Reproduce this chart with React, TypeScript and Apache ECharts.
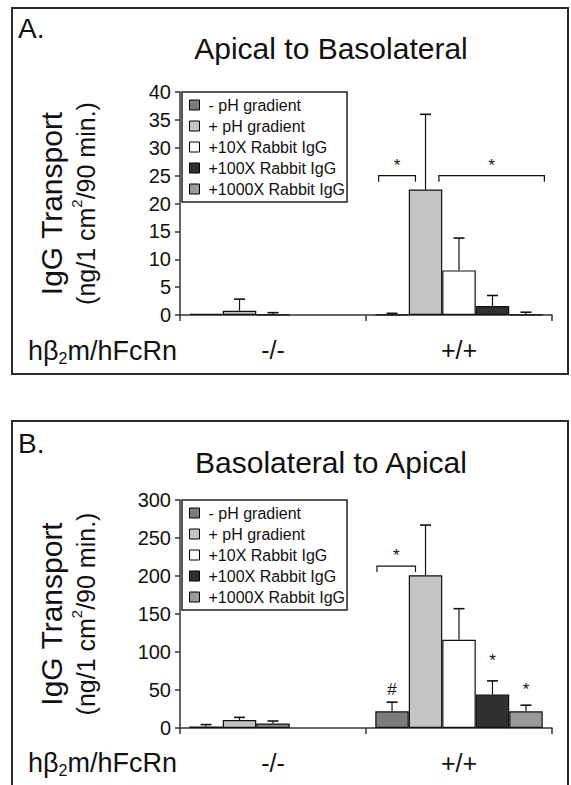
import React, { useEffect, useRef } from "react";
import * as echarts from "echarts";

// ---------- data ----------
const groups = ["-/-", "+/+"];
const seriesNames = [
  "- pH gradient",
  "+ pH gradient",
  "+10X Rabbit IgG",
  "+100X Rabbit IgG",
  "+1000X Rabbit IgG",
];

// Panel A: Apical to Basolateral, mean per series for [-/-, +/+]
const apicalMeans: (number | null)[][] = [
  [0.2, 0.05],
  [0.75, 22.5],
  [0.02, 8.0],
  [null, 1.6],
  [null, 0.05],
];
const apicalErrors: (number | null)[][] = [
  [0, 0.25],
  [2.1, 13.5],
  [0.4, 5.8],
  [null, 1.9],
  [null, 0.45],
];

// Panel B: Basolateral to Apical
const basolateralMeans: (number | null)[][] = [
  [2, 22],
  [10.5, 201],
  [6, 116],
  [null, 44],
  [null, 22],
];
const basolateralErrors: (number | null)[][] = [
  [2.5, 12],
  [3.5, 66],
  [3.2, 41],
  [null, 18],
  [null, 8],
];

// significance brackets (bar units relative to the group centre) and marks
const apicalBrackets = [
  { group: 1, value: 25, from: -2.4, to: -1.3, mark: "*" },
  { group: 1, value: 25, from: -0.6, to: 2.55, mark: "*" },
];
const apicalMarks: { group: number; bar: number; value: number; mark: string }[] = [];
const basolateralBrackets = [
  { group: 1, value: 213, from: -2.45, to: -1.3, mark: "*" },
];
const basolateralMarks = [
  { group: 1, bar: 0, value: 47, mark: "#" },
  { group: 1, bar: 3, value: 86, mark: "*" },
  { group: 1, bar: 4, value: 48, mark: "*" },
];

// ---------- styles ----------
const FONT = '"Liberation Sans", Arial, sans-serif';
const seriesColors = ["#7c7c7c", "#c4c4c4", "#ffffff", "#303030", "#9a9a9a"];
const knockoutThirdColor = "#8a8a8a";
const INK = "#111111";
const CAT_GAP = 0.1;

const panels = [
  {
    letter: "A.",
    title: "Apical to Basolateral",
    means: apicalMeans,
    errors: apicalErrors,
    brackets: apicalBrackets,
    marks: apicalMarks,
    yMax: 40,
    yInterval: 5,
    gridTop: 92,
    gridHeight: 223,
    frameTop: 8,
    frameHeight: 366,
    letterY: 28,
    titleY: 48,
    rowLabelY: 351,
  },
  {
    letter: "B.",
    title: "Basolateral to Apical",
    means: basolateralMeans,
    errors: basolateralErrors,
    brackets: basolateralBrackets,
    marks: basolateralMarks,
    yMax: 300,
    yInterval: 50,
    gridTop: 500,
    gridHeight: 228,
    frameTop: 421,
    frameHeight: 420,
    letterY: 443,
    titleY: 462,
    rowLabelY: 763,
  },
];

function buildOption() {
  const grid: any[] = [];
  const xAxis: any[] = [];
  const yAxis: any[] = [];
  const legend: any[] = [];
  const series: any[] = [];
  const graphic: any[] = [];

  panels.forEach((p, pi) => {
    grid.push({ left: 180, right: 19, top: p.gridTop, height: p.gridHeight });
    xAxis.push({
      type: "category",
      gridIndex: pi,
      data: groups,
      axisLine: { lineStyle: { color: "#333", width: 1.5 } },
      axisTick: {
        show: true,
        length: 6,
        interval: 0,
        lineStyle: { color: "#333", width: 1.5 },
      },
      axisLabel: { fontSize: 25, fontFamily: FONT, color: INK, margin: 22 },
    });
    yAxis.push({
      type: "value",
      gridIndex: pi,
      min: 0,
      max: p.yMax,
      interval: p.yInterval,
      splitLine: { show: false },
      axisLine: { show: true, lineStyle: { color: "#333", width: 1.5 } },
      axisTick: { show: true, length: 5, lineStyle: { color: "#333", width: 1.5 } },
      axisLabel: { fontSize: 20, fontFamily: FONT, color: INK, margin: 9 },
      name: "{a|IgG Transport}\n{b|(ng/1 cm}{s|2}{b|/90 min.)}",
      nameLocation: "middle",
      nameRotate: 90,
      nameGap: 77,
      nameTextStyle: {
        fontFamily: FONT,
        color: INK,
        rich: {
          a: { fontSize: 30, lineHeight: 36, fontFamily: FONT, color: INK },
          b: { fontSize: 25, lineHeight: 34, fontFamily: FONT, color: INK },
          s: { fontSize: 15, lineHeight: 34, fontFamily: FONT, color: INK, verticalAlign: "top", padding: [0, 0, 10, 0] },
        },
      },
    });
    legend.push({
      data: seriesNames,
      orient: "vertical",
      left: 182,
      top: p.gridTop,
      backgroundColor: "#ffffff",
      borderColor: "#222",
      borderWidth: 1.5,
      borderRadius: 0,
      padding: [5, 2, 5, 7],
      itemGap: 5,
      itemWidth: 10,
      itemHeight: 10,
      icon: "rect",
      itemStyle: { borderColor: "#000", borderWidth: 1 },
      textStyle: { fontSize: 16, fontFamily: FONT, color: INK, padding: [0, 0, 0, 4] },
      selectedMode: false,
      z: 10,
    });

    seriesNames.forEach((name, si) => {
      series.push({
        type: "bar",
        name,
        xAxisIndex: pi,
        yAxisIndex: pi,
        barGap: "0%",
        barCategoryGap: `${CAT_GAP * 100}%`,
        itemStyle: { color: seriesColors[si], borderColor: INK, borderWidth: 1.2 },
        emphasis: { disabled: true },
        data: p.means[si].map((v, gi) =>
          v == null
            ? null
            : si === 2 && gi === 0
            ? { value: v, itemStyle: { color: knockoutThirdColor } }
            : v
        ),
      });
    });

    // error bars
    const errData: number[][] = [];
    p.means.forEach((row, si) =>
      row.forEach((v, gi) => {
        const e = p.errors[si][gi];
        if (v != null && e != null && e > 0) errData.push([gi, v, v + e, si]);
      })
    );
    series.push({
      type: "custom",
      name: "error",
      xAxisIndex: pi,
      yAxisIndex: pi,
      z: 4,
      silent: true,
      encode: { x: 0, y: 2 },
      data: errData,
      renderItem: (params: any, api: any) => {
        const gi = api.value(0);
        const base = api.coord([gi, api.value(1)]);
        const top = api.coord([gi, api.value(2)]);
        const band = api.size([1, 0])[0];
        const bw = (band * (1 - CAT_GAP)) / 5;
        const x = base[0] + (api.value(3) - 2) * bw;
        return {
          type: "group",
          children: [
            { type: "line", shape: { x1: x, y1: base[1], x2: x, y2: top[1] }, style: { stroke: INK, lineWidth: 1.2 } },
            { type: "line", shape: { x1: x - 5.5, y1: top[1], x2: x + 5.5, y2: top[1] }, style: { stroke: INK, lineWidth: 1.6 } },
          ],
        };
      },
    });

    // brackets and marks
    const annData = [
      ...p.brackets.map((b) => [b.group, b.value]),
      ...p.marks.map((m) => [m.group, m.value]),
    ];
    const nB = p.brackets.length;
    series.push({
      type: "custom",
      name: "significance",
      xAxisIndex: pi,
      yAxisIndex: pi,
      z: 5,
      silent: true,
      encode: { x: 0, y: 1 },
      data: annData,
      renderItem: (params: any, api: any) => {
        const gi = api.value(0);
        const pt = api.coord([gi, api.value(1)]);
        const band = api.size([1, 0])[0];
        const bw = (band * (1 - CAT_GAP)) / 5;
        const textStyle = (t: string, x: number, y: number) => ({
          type: "text",
          x,
          y,
          style: {
            text: t,
            fill: INK,
            font: `17px ${FONT}`,
            textAlign: "center",
            textVerticalAlign: "bottom",
            align: "center",
            verticalAlign: "bottom",
          },
        });
        if (params.dataIndex < nB) {
          const b = p.brackets[params.dataIndex];
          const x1 = pt[0] + b.from * bw;
          const x2 = pt[0] + b.to * bw;
          return {
            type: "group",
            children: [
              {
                type: "polyline",
                shape: { points: [[x1, pt[1] + 6], [x1, pt[1]], [x2, pt[1]], [x2, pt[1] + 6]] },
                style: { stroke: INK, lineWidth: 1.2, fill: "none" },
              },
              textStyle(b.mark, (x1 + x2) / 2, pt[1] - 2),
            ],
          };
        }
        const m = p.marks[params.dataIndex - nB];
        return textStyle(m.mark, pt[0] + (m.bar - 2) * bw, pt[1] + 6);
      },
    });

    graphic.push(
      {
        type: "rect",
        shape: { x: 12, y: p.frameTop, width: 556, height: p.frameHeight },
        style: { fill: "none", stroke: "#2a2a2a", lineWidth: 2 },
        z: 0,
      },
      {
        type: "text",
        x: 18,
        y: p.letterY,
        style: { text: p.letter, font: `28px ${FONT}`, fill: INK, textVerticalAlign: "middle", verticalAlign: "middle" },
      },
      {
        type: "text",
        x: 331,
        y: p.titleY,
        style: {
          text: p.title,
          font: `30px ${FONT}`,
          fill: INK,
          textAlign: "center",
          align: "center",
          textVerticalAlign: "middle",
          verticalAlign: "middle",
        },
      },
      {
        type: "text",
        x: 28,
        y: p.rowLabelY,
        style: {
          text: "{m|hβ}{s|2}{m|m/hFcRn}",
          fill: INK,
          textVerticalAlign: "middle",
          verticalAlign: "middle",
          rich: {
            m: { fontSize: 27, fontFamily: FONT, fill: INK, lineHeight: 32 },
            s: { fontSize: 16, fontFamily: FONT, fill: INK, lineHeight: 32, padding: [14, 0, 0, 0] },
          },
        },
      }
    );
  });

  return {
    animation: false,
    backgroundColor: "#ffffff",
    textStyle: { fontFamily: FONT },
    grid,
    xAxis,
    yAxis,
    legend,
    series,
    graphic,
  };
}

export default function App() {
  const ref = useRef<HTMLDivElement>(null);
  useEffect(() => {
    const chart = echarts.init(ref.current!, null, { renderer: "svg" });
    chart.setOption(buildOption() as any);
    return () => chart.dispose();
  }, []);
  return (
    <div
      ref={ref}
      style={{ position: "absolute", left: 0, top: 0, width: 571, height: 785, background: "#fff" }}
    />
  );
}
